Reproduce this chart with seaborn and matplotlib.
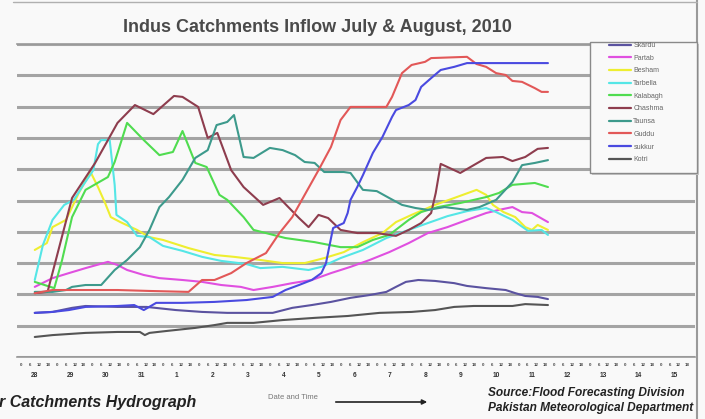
import matplotlib
matplotlib.use("Agg")
import matplotlib.pyplot as plt
import seaborn as sns
import pandas as pd
import numpy as np
from matplotlib.lines import Line2D
from matplotlib.patches import Rectangle

# ---- data: inflow (thousand cusecs) against days from 28 July 2010 00:00 ----
stations = ["Skardu", "Partab", "Besham", "Tarbella", "Kalabagh",
            "Chashma", "Taunsa", "Guddu", "sukkur", "Kotri"]
colors = ["#5b53a0", "#e050e0", "#eeee30", "#55e6e6", "#50dc50",
          "#8e3d4e", "#3d9a8c", "#e25858", "#4a4ae0", "#555555"]

skardu_day = [0.5, 1.0, 1.55, 1.93, 2.83, 3.65, 4.47, 5.21, 5.92, 7.20, 7.75, 8.30, 8.84, 9.39,
              9.93, 10.40, 10.67, 10.95, 11.30, 11.77, 12.31, 12.67, 13.21, 13.76, 14.03, 14.31, 14.66, 14.95]
skardu_flow = [141, 144, 157, 163, 160, 160, 150, 144, 141, 141, 157, 166, 176, 189,
               198, 208, 224, 240, 246, 243, 236, 227, 220, 214, 204, 195, 192, 185]

partab_day = [0.5, 1.0, 1.46, 1.93, 2.56, 2.83, 3.10, 3.57, 4.01, 4.66, 5.21, 5.75, 6.30, 6.66, 7.20,
              7.75, 8.30, 8.84, 9.39, 9.93, 10.48, 11.03, 11.57, 12.12, 12.67, 13.21, 13.57, 13.95,
              14.22, 14.50, 14.95]
partab_flow = [224, 252, 268, 284, 304, 294, 278, 262, 252, 246, 240, 230, 224, 214, 224,
               236, 246, 268, 288, 310, 335, 364, 396, 415, 438, 460, 470, 479,
               463, 460, 431]

besham_day = [0.5, 0.84, 1.0, 1.38, 1.74, 2.07, 2.28, 2.48, 2.64, 2.91, 3.38, 3.73, 4.11, 4.83, 5.56,
              6.11, 6.85, 7.48, 8.10, 8.65, 9.20, 9.74, 10.29, 10.67, 11.11, 11.77, 12.31, 12.94,
              13.21, 13.40, 13.70, 14.03, 14.31, 14.50, 14.66, 14.95]
besham_flow = [342, 364, 415, 438, 524, 591, 543, 492, 447, 431, 406, 383, 374, 348, 326,
               320, 310, 300, 300, 316, 335, 367, 396, 431, 454, 486, 508, 534,
               518, 486, 463, 447, 415, 406, 422, 406]

tarbella_day = [0.5, 0.73, 1.0, 1.33, 1.60, 1.87, 2.15, 2.28, 2.37, 2.61, 2.75, 2.80, 3.10, 3.38,
                3.73, 4.11, 4.66, 5.21, 5.75, 6.46, 6.85, 7.48, 8.21, 8.57, 9.11, 9.74, 10.40,
                11.03, 11.57, 12.12, 12.67, 13.21, 13.49, 13.95, 14.39, 14.77, 14.95]
tarbella_flow = [246, 358, 438, 486, 502, 550, 597, 680, 693, 693, 550, 454, 431, 387,
                 383, 355, 339, 320, 307, 297, 284, 288, 278, 288, 316, 342, 380,
                 406, 428, 450, 466, 476, 463, 438, 403, 406, 390]

kalabagh_day = [0.5, 1.05, 1.27, 1.55, 1.93, 2.56, 2.75, 3.10, 3.57, 4.01, 4.39, 4.66, 5.02, 5.34,
                5.70, 5.92, 6.38, 6.66, 7.01, 7.56, 8.38, 9.11, 9.58, 10.02, 10.48, 11.03, 11.38,
                11.85, 12.48, 13.21, 13.57, 13.95, 14.58, 14.95]
kalabagh_flow = [240, 220, 310, 447, 534, 575, 623, 748, 693, 645, 655, 722, 620, 607,
                 518, 502, 447, 406, 396, 380, 367, 351, 351, 374, 390, 438, 463,
                 479, 492, 511, 524, 550, 556, 543]

chashma_day = [0.5, 0.86, 1.55, 2.20, 2.56, 2.83, 3.32, 3.84, 4.42, 4.66, 5.10, 5.37, 5.64, 6.03,
               6.38, 6.93, 7.39, 7.94, 8.21, 8.49, 8.76, 9.11, 9.58, 10.13, 10.67, 11.03, 11.38,
               11.66, 11.79, 11.93, 12.48, 13.21, 13.68, 13.95, 14.31, 14.66, 14.95]
chashma_flow = [204, 208, 508, 620, 693, 748, 805, 776, 834, 831, 799, 700, 716, 597,
                543, 486, 508, 444, 415, 454, 444, 406, 396, 396, 387, 406, 428,
                460, 524, 617, 588, 636, 639, 626, 639, 665, 668]

taunsa_day = [0.5, 1.0, 1.38, 1.55, 1.93, 2.37, 2.75, 3.10, 3.46, 3.73, 4.01, 4.28, 4.66, 5.02,
              5.37, 5.62, 5.92, 6.11, 6.38, 6.66, 7.12, 7.48, 7.83, 8.10, 8.38, 8.65, 9.20, 9.39,
              9.74, 10.13, 10.48, 10.84, 11.22, 11.57, 12.04, 12.67, 13.02, 13.49, 13.95, 14.22,
              14.58, 14.95]
taunsa_flow = [208, 208, 214, 224, 230, 230, 278, 310, 351, 406, 479, 511, 566, 636,
               661, 741, 751, 773, 639, 636, 668, 661, 645, 623, 620, 591, 591, 588,
               534, 530, 508, 486, 476, 470, 479, 470, 479, 502, 559, 613,
               620, 629]

guddu_day = [0.5, 1.0, 2.83, 3.73, 4.83, 5.21, 5.56, 6.03, 6.46, 7.01, 7.39, 7.75, 8.10, 8.49,
             8.84, 9.11, 9.39, 10.40, 10.56, 10.84, 11.11, 11.49, 11.66, 12.67, 12.94, 13.21,
             13.49, 13.76, 13.95, 14.22, 14.58, 14.77, 14.95]
guddu_flow = [204, 214, 214, 211, 208, 246, 246, 268, 300, 332, 396, 447, 518, 597,
              671, 757, 799, 799, 831, 907, 933, 943, 955, 959, 936, 927,
              907, 901, 882, 879, 859, 847, 847]

sukkur_day = [0.5, 1.0, 1.46, 1.93, 2.83, 3.30, 3.57, 3.92, 4.66, 5.56, 6.46, 7.20, 7.56, 7.94,
              8.30, 8.57, 8.70, 8.79, 8.90, 9.20, 9.31, 9.39, 9.58, 9.74, 10.02, 10.29, 10.56,
              10.67, 11.03, 11.22, 11.38, 11.66, 11.93, 12.31, 12.67, 13.21, 14.95]
sukkur_flow = [141, 144, 150, 160, 163, 166, 150, 173, 173, 176, 182, 192, 214, 230,
               246, 268, 300, 351, 412, 428, 460, 502, 543, 581, 652, 703, 767,
               789, 805, 821, 863, 891, 917, 927, 939, 939, 939]

kotri_day = [0.5, 1.0, 1.93, 2.83, 3.46, 3.60, 3.73, 4.20, 5.02, 5.56, 5.92, 6.66, 7.48, 8.38,
             9.31, 10.21, 11.11, 11.77, 12.31, 12.86, 13.95, 14.31, 14.95]
kotri_flow = [64, 70, 77, 80, 80, 70, 77, 83, 93, 102, 109, 109, 118, 125,
              131, 141, 144, 150, 160, 163, 163, 169, 166]

day_labels = ["28", "29", "30", "31", "1", "2", "3", "4", "5", "6", "7",
              "8", "9", "10", "11", "12", "13", "14", "15"]
hour_labels = ["0", "6", "12", "18"]

series_days = [skardu_day, partab_day, besham_day, tarbella_day, kalabagh_day,
               chashma_day, taunsa_day, guddu_day, sukkur_day, kotri_day]
series_flows = [skardu_flow, partab_flow, besham_flow, tarbella_flow, kalabagh_flow,
                chashma_flow, taunsa_flow, guddu_flow, sukkur_flow, kotri_flow]

df = pd.concat(
    [pd.DataFrame({"day": d, "flow": f, "station": s})
     for s, d, f in zip(stations, series_days, series_flows)],
    ignore_index=True)

# ---- figure ----
sns.set_theme(style="white")
plt.rcParams["font.family"] = ["Liberation Sans", "DejaVu Sans"]

W, H = 705, 419
bg = "#f9f9f9"
fig = plt.figure(figsize=(W / 100, H / 100), dpi=100, facecolor=bg)
ax = fig.add_axes([17 / W, 1 - 357 / H, (695 - 17) / W, (357 - 44) / H])
ax.set_facecolor(bg)

sns.lineplot(data=df, x="day", y="flow", hue="station", hue_order=stations,
             palette=dict(zip(stations, colors)), estimator=None, sort=False,
             linewidth=1.5, ax=ax, legend=False)

ax.set_xlim(0.563, 19.09)
ax.set_ylim(0, 1000)
ax.set_xlabel("")
ax.set_ylabel("")

# horizontal grid
ax.set_yticks(np.arange(0, 1001, 100))
ax.set_yticklabels([])
ax.tick_params(axis="y", length=0)
ax.yaxis.grid(True, color="#a4a4a4", linewidth=2.2)
ax.xaxis.grid(False)
ax.set_axisbelow(True)

for side in ["left", "right"]:
    ax.spines[side].set_visible(False)
for side in ["top", "bottom"]:
    ax.spines[side].set_color("#999999")
    ax.spines[side].set_linewidth(1.2)

# day separators and 3-hourly ticks
ax.set_xticks(np.arange(1, 20))
ax.set_xticklabels([])
ax.set_xticks(np.arange(0, 19.1, 0.125), minor=True)
ax.tick_params(axis="x", which="major", length=15, width=0.9, color="#888888", direction="out")
ax.tick_params(axis="x", which="minor", length=2.5, width=0.6, color="#888888", direction="out")

tr = ax.get_xaxis_transform()
xmin, xmax = ax.get_xlim()
for i, lab in enumerate(day_labels):
    if xmin <= i + 0.5 <= xmax:
        ax.text(i + 0.5, -0.058, lab, transform=tr, ha="center", va="center",
                fontsize=4.8, color="#333333", fontweight="bold")
    for k, hl in enumerate(hour_labels):
        xp = i + (k + 0.5) / 4
        if xmin <= xp <= xmax:
            ax.text(xp, -0.024, hl, transform=tr, ha="center", va="center",
                    fontsize=3.2, color="#444444", fontweight="bold")

# legend with its own framed box
box = Rectangle((590 / W, 1 - 173 / H), 107 / W, 131 / H, transform=fig.transFigure,
                facecolor=bg, edgecolor="#8a8a8a", linewidth=1.0, zorder=5)
shadow = Rectangle((592 / W, 1 - 175 / H), 107 / W, 131 / H, transform=fig.transFigure,
                   facecolor="#c8c8c8", edgecolor="none", zorder=4)
fig.patches.extend([shadow, box])
handles = [Line2D([], [], color=c, linewidth=1.6) for c in colors]
leg = fig.legend(handles, stations, loc="upper left",
                 bbox_to_anchor=(609 / W, 1 - 42 / H), bbox_transform=fig.transFigure,
                 frameon=False, fontsize=5, handlelength=3.2, handletextpad=0.3,
                 labelspacing=0.82, borderpad=0, borderaxespad=0)
leg.set_zorder(6)
for t in leg.get_texts():
    t.set_color("#666666")

# titles and notes
fig.text(317 / W, 1 - 28 / H, "Indus Catchments Inflow July & August, 2010",
         ha="center", va="center", fontsize=13, fontweight="bold", color="#4a4a4a")
fig.text(196 / W, 1 - 402 / H, "r Catchments Hydrograph", ha="right", va="center",
         fontsize=11.5, fontweight="bold", style="italic", color="#222222")
fig.text(268 / W, 1 - 397 / H, "Date and Time", ha="left", va="center",
         fontsize=5.5, color="#777777")
ax.annotate("", xy=(430 / W, 1 - 402 / H), xytext=(333 / W, 1 - 402 / H),
            xycoords="figure fraction", textcoords="figure fraction",
            arrowprops=dict(arrowstyle="-|>", color="#222222", lw=1.2, mutation_scale=7))
fig.text(488 / W, 1 - 393 / H, "Source:Flood Forecasting Division", ha="left", va="center",
         fontsize=8.6, fontweight="bold", style="italic", color="#222222")
fig.text(488 / W, 1 - 408 / H, "Pakistan Meteorological Department", ha="left", va="center",
         fontsize=8.6, fontweight="bold", style="italic", color="#222222")

# outer frame lines
fig.add_artist(Line2D([697 / W, 697 / W], [0, 1], transform=fig.transFigure,
                      color="#9a9a9a", linewidth=1.5))
fig.add_artist(Line2D([13 / W, 697 / W], [1 - 2 / H, 1 - 2 / H], transform=fig.transFigure,
                      color="#b0b0b0", linewidth=1.0))

fig.savefig("out.png", dpi=100, facecolor=bg)
